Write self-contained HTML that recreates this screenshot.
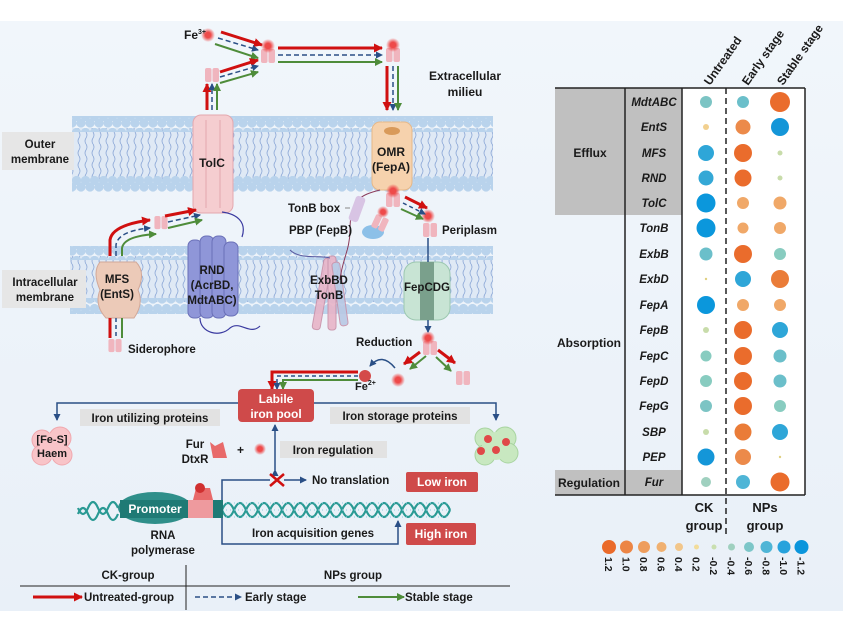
<!DOCTYPE html>
<html><head><meta charset="utf-8"><style>
html,body{margin:0;padding:0;background:#fff;}
svg{display:block;font-family:"Liberation Sans",Arial,sans-serif;}
.b{font-weight:bold;fill:#1a1a1a;}
</style></head><body>
<svg width="857" height="622" viewBox="0 0 857 622" xmlns="http://www.w3.org/2000/svg">
<defs>
<linearGradient id="bg" x1="0" y1="0" x2="0" y2="1"><stop offset="0" stop-color="#f1f6fb"/><stop offset="1" stop-color="#e9f0f8"/></linearGradient>
<pattern id="heads" width="9" height="16" patternUnits="userSpaceOnUse">
<circle cx="4.5" cy="4.5" r="4.6" fill="#b9d3ec"/><circle cx="0" cy="11" r="4.6" fill="#b9d3ec"/><circle cx="9" cy="11" r="4.6" fill="#b9d3ec"/></pattern>
<pattern id="tails" width="7" height="12" patternUnits="userSpaceOnUse">
<path d="M2 0 q2 3 0 6 q-2 3 0 6" stroke="#8aa6d6" stroke-width="0.8" fill="none"/></pattern>
<marker id="ar" markerUnits="userSpaceOnUse" markerWidth="9" markerHeight="9" refX="8" refY="4.5" orient="auto"><path d="M0 0L9 4.5L0 9z" fill="#d01010"/></marker>
<marker id="ab" markerUnits="userSpaceOnUse" markerWidth="7" markerHeight="7" refX="6" refY="3.5" orient="auto"><path d="M0 0L7 3.5L0 7z" fill="#2a4f86"/></marker>
<marker id="ag" markerUnits="userSpaceOnUse" markerWidth="8" markerHeight="8" refX="7" refY="4" orient="auto"><path d="M0 0L8 4L0 8z" fill="#4e8c3a"/></marker>
<symbol id="tp" viewBox="0 0 16 16"><rect x="1" y="1" width="6.5" height="14" rx="2" fill="#f0b5be"/><rect x="8.5" y="1" width="6.5" height="14" rx="2" fill="#f0b5be"/></symbol>
<radialGradient id="fe"><stop offset="0.4" stop-color="#ee4a4a"/><stop offset="1" stop-color="#ee4a4a" stop-opacity="0"/></radialGradient>
</defs>
<rect x="0" y="21" width="843" height="590" fill="url(#bg)"/>

<g>
<rect x="72" y="128" width="421" height="52" fill="#dfe9f5"/>
<rect x="72" y="128" width="421" height="52" fill="url(#tails)"/>
<rect x="72" y="116" width="421" height="16" fill="url(#heads)"/>
<rect x="72" y="176" width="421" height="16" fill="url(#heads)"/>
<rect x="70" y="256" width="423" height="46" fill="#dfe9f5"/>
<rect x="70" y="256" width="423" height="46" fill="url(#tails)"/>
<rect x="70" y="246" width="423" height="14" fill="url(#heads)"/>
<rect x="70" y="298" width="423" height="16" fill="url(#heads)"/>
</g>
<rect x="2" y="132" width="72" height="38" fill="#e6e6e6"/>
<text class="b" font-size="11.5" text-anchor="middle" x="40" y="148">Outer</text>
<text class="b" font-size="11.5" text-anchor="middle" x="40" y="163">membrane</text>
<rect x="2" y="270" width="84" height="38" fill="#e6e6e6"/>
<text class="b" font-size="11.5" text-anchor="middle" x="45" y="286">Intracellular</text>
<text class="b" font-size="11.5" text-anchor="middle" x="45" y="301">membrane</text>

<rect x="193" y="115" width="40" height="98" rx="8" fill="#f5cdd0" stroke="#e4a8ae"/>
<line x1="206" y1="120" x2="206" y2="208" stroke="#e4a8ae"/><line x1="220" y1="120" x2="220" y2="208" stroke="#e4a8ae"/>
<text class="b" font-size="12" text-anchor="middle" x="212" y="167">TolC</text>
<rect x="372" y="122" width="40" height="68" rx="8" fill="#f6d2ad" stroke="#e6b888"/>
<ellipse cx="392" cy="131" rx="8" ry="4" fill="#d99a5a"/>
<text class="b" font-size="12" text-anchor="middle" x="391" y="156">OMR</text>
<text class="b" font-size="12" text-anchor="middle" x="391" y="171">(FepA)</text>
<g fill="#8f96d8" stroke="#6a70b8">
<rect x="188" y="240" width="14" height="78" rx="6"/><rect x="200" y="236" width="14" height="82" rx="6"/><rect x="212" y="236" width="14" height="82" rx="6"/><rect x="224" y="242" width="14" height="74" rx="6"/></g>
<path d="M222 212 c15 2 25 10 20 25 M200 318 c0 15 20 20 30 10 c10 -8 20 8 30 -2" stroke="#3a3aa0" fill="none" stroke-width="1.2"/>
<text class="b" font-size="11.5" text-anchor="middle" x="212" y="274">RND</text>
<text class="b" font-size="11.5" text-anchor="middle" x="212" y="289">(AcrBD,</text>
<text class="b" font-size="11.5" text-anchor="middle" x="212" y="304">MdtABC)</text>
<path d="M100 262 q-8 10 0 28 q-6 15 6 28 h28 q10 -14 4 -28 q8 -18 -2 -28z" fill="#eccab8" stroke="#d2a898"/>
<text class="b" font-size="11.5" text-anchor="middle" x="117" y="283">MFS</text>
<text class="b" font-size="11.5" text-anchor="middle" x="117" y="298">(EntS)</text>
<g fill="#e8b4c8" stroke="#c890a8" opacity="0.9">
<rect x="318" y="258" width="8" height="72" rx="3" transform="rotate(10 322 294)"/><rect x="328" y="256" width="8" height="74" rx="3"/><rect x="336" y="262" width="8" height="64" rx="3" fill="#b8c8e4" transform="rotate(-8 340 294)"/></g>
<path d="M380 190 c-20 5 -30 10 -30 40 c0 20 -8 30 -10 50" stroke="#8a3a5a" fill="none"/>
<path d="M290 250 c10 10 30 5 40 8" stroke="#5a5aa0" fill="none"/>
<text class="b" font-size="11.5" text-anchor="middle" x="329" y="284">ExbBD</text>
<text class="b" font-size="11.5" text-anchor="middle" x="329" y="299">TonB</text>
<rect x="352" y="196" width="10" height="26" rx="3" fill="#d8c4e4" transform="rotate(20 357 209)"/>
<line x1="345" y1="208" x2="350" y2="208" stroke="#888"/>
<ellipse cx="373" cy="232" rx="11" ry="7" fill="#8cc0e8"/>
<use href="#tp" x="372" y="212" width="16" height="22" transform="rotate(25 380 223)"/>
<circle cx="383" cy="212" r="6" fill="url(#fe)"/>
<rect x="404" y="262" width="46" height="58" rx="12" fill="#c8e4d4" stroke="#9cc8b0"/>
<rect x="420" y="262" width="14" height="58" fill="#7aa08c"/>
<text class="b" font-size="11.5" text-anchor="middle" x="427" y="291">FepCDG</text>

<use href="#tp" x="260" y="48" width="16" height="16"/>
<use href="#tp" x="204" y="67" width="16" height="16"/>
<use href="#tp" x="385" y="47" width="16" height="16"/>
<use href="#tp" x="385" y="192" width="16" height="16"/>
<use href="#tp" x="153" y="215" width="16" height="15"/>
<use href="#tp" x="107" y="338" width="16" height="15"/>
<use href="#tp" x="422" y="222" width="16" height="16"/>
<use href="#tp" x="422" y="340" width="16" height="16"/>
<use href="#tp" x="455" y="370" width="16" height="16"/>
<circle cx="208" cy="35" r="7" fill="url(#fe)"/>
<circle cx="268" cy="46" r="7" fill="url(#fe)"/>
<circle cx="393" cy="45" r="7" fill="url(#fe)"/>
<circle cx="393" cy="191" r="7" fill="url(#fe)"/>
<circle cx="428" cy="216" r="7" fill="url(#fe)"/>
<circle cx="428" cy="338" r="7" fill="url(#fe)"/>
<circle cx="398" cy="380" r="7" fill="url(#fe)"/>
<circle cx="365" cy="376" r="6" fill="#d44a4a"/>

<g fill="none" stroke-width="2.5">
<path d="M221 32 L262 45" stroke="#d01010" marker-end="url(#ar)" stroke-width="3"/>
<path d="M218 38 L258 50" stroke="#2a4f86" stroke-dasharray="5 3" stroke-width="1.5" marker-end="url(#ab)"/>
<path d="M215 44 L258 58" stroke="#4e8c3a" marker-end="url(#ag)" stroke-width="2"/>
<path d="M220 72 L258 60" stroke="#d01010" marker-end="url(#ar)" stroke-width="3"/>
<path d="M220 77 L258 66" stroke="#2a4f86" stroke-dasharray="5 3" stroke-width="1.5" marker-end="url(#ab)"/>
<path d="M220 83 L258 72" stroke="#4e8c3a" marker-end="url(#ag)" stroke-width="2"/>
<path d="M278 48 L382 48" stroke="#d01010" marker-end="url(#ar)" stroke-width="3"/>
<path d="M278 55 L382 55" stroke="#2a4f86" stroke-dasharray="5 3" stroke-width="1.5" marker-end="url(#ab)"/>
<path d="M278 62 L382 62" stroke="#4e8c3a" marker-end="url(#ag)" stroke-width="2"/>
<path d="M387 66 L387 110" stroke="#d01010" marker-end="url(#ar)" stroke-width="3"/>
<path d="M393 66 L393 110" stroke="#2a4f86" stroke-dasharray="5 3" stroke-width="1.5" marker-end="url(#ab)"/>
<path d="M398 66 L398 110" stroke="#4e8c3a" marker-end="url(#ag)" stroke-width="2"/>
<path d="M207 110 L207 84" stroke="#d01010" marker-end="url(#ar)" stroke-width="3"/>
<path d="M212 110 L212 84" stroke="#2a4f86" stroke-dasharray="5 3" stroke-width="1.5" marker-end="url(#ab)"/>
<path d="M217 110 L217 84" stroke="#4e8c3a" marker-end="url(#ag)" stroke-width="2"/>
<path d="M110 256 L110 240 Q112 225 150 220" stroke="#d01010" marker-end="url(#ar)" stroke-width="3"/>
<path d="M116 256 L116 245 Q118 231 150 228" stroke="#2a4f86" stroke-dasharray="5 3" stroke-width="1.5" marker-end="url(#ab)"/>
<path d="M122 256 L122 248 Q124 236 156 234" stroke="#4e8c3a" marker-end="url(#ag)" stroke-width="2"/>
<path d="M165 216 L196 210" stroke="#d01010" marker-end="url(#ar)" stroke-width="3"/>
<path d="M168 222 L200 215" stroke="#2a4f86" stroke-dasharray="5 3" stroke-width="1.5" marker-end="url(#ab)"/>
<path d="M168 228 L202 220" stroke="#4e8c3a" marker-end="url(#ag)" stroke-width="2"/>
<path d="M110 318 L110 338" stroke="#d01010" stroke-width="3"/>
<path d="M116 318 L116 338" stroke="#2a4f86" stroke-dasharray="4 3" stroke-width="1.5"/>
<path d="M122 318 L122 338" stroke="#4e8c3a" stroke-width="2"/>
<path d="M405 197 L427 208" stroke="#d01010" marker-end="url(#ar)" stroke-width="3"/>
<path d="M403 203 L425 214" stroke="#2a4f86" stroke-dasharray="4 3" stroke-width="1.5" marker-end="url(#ab)"/>
<path d="M401 209 L423 219" stroke="#4e8c3a" marker-end="url(#ag)" stroke-width="2"/>
<path d="M428 238 L428 262 M428 320 L428 332" stroke="#2a4f86" stroke-width="1.5" marker-end="url(#ab)"/>
<path d="M420 352 L404 364" stroke="#d01010" marker-end="url(#ar)" stroke-width="3"/>
<path d="M426 356 L410 369" stroke="#4e8c3a" marker-end="url(#ag)" stroke-width="2"/>
<path d="M438 350 L455 363" stroke="#d01010" marker-end="url(#ar)" stroke-width="3"/>
<path d="M436 357 L451 371" stroke="#4e8c3a" marker-end="url(#ag)" stroke-width="2"/>
<path d="M395 368 Q382 352 370 366" stroke="#2a4f86" stroke-width="1.5" marker-end="url(#ab)"/>
<path d="M358 372 L272 372 L272 389" stroke="#d01010" marker-end="url(#ar)" stroke-width="3"/>
<path d="M358 376 L277 376 L277 389" stroke="#2a4f86" stroke-dasharray="4 3" stroke-width="1.5" marker-end="url(#ab)"/>
<path d="M358 380 L283 380 L283 389" stroke="#4e8c3a" marker-end="url(#ag)" stroke-width="2"/>
</g>

<text class="b" font-size="12" x="184" y="39">Fe<tspan font-size="7" dy="-5">3+</tspan></text>
<text class="b" font-size="12" text-anchor="middle" x="465" y="80">Extracellular</text>
<text class="b" font-size="12" text-anchor="middle" x="465" y="96">milieu</text>
<text class="b" font-size="11.5" x="288" y="212">TonB box</text>
<text class="b" font-size="11.5" x="289" y="234">PBP (FepB)</text>
<text class="b" font-size="11.5" x="442" y="234">Periplasm</text>
<text class="b" font-size="11.5" x="128" y="353">Siderophore</text>
<text class="b" font-size="11.5" x="356" y="346">Reduction</text>
<text class="b" font-size="11" x="355" y="390">Fe<tspan font-size="7" dy="-5">2+</tspan></text>

<rect x="238" y="389" width="76" height="33" rx="4" fill="#cf4a4a"/>
<text font-size="12" font-weight="bold" fill="#fff" text-anchor="middle" x="276" y="403">Labile</text>
<text font-size="12" font-weight="bold" fill="#fff" text-anchor="middle" x="276" y="418">iron pool</text>
<path d="M238 403 L57 403 L57 420" stroke="#2a4f86" stroke-width="1.5" fill="none" marker-end="url(#ab)"/>
<path d="M314 403 L496 403 L496 420" stroke="#2a4f86" stroke-width="1.5" fill="none" marker-end="url(#ab)"/>
<rect x="80" y="409" width="140" height="17" fill="#e2e2e2"/>
<text class="b" font-size="11.5" text-anchor="middle" x="150" y="422">Iron utilizing proteins</text>
<rect x="330" y="407" width="140" height="17" fill="#e2e2e2"/>
<text class="b" font-size="11.5" text-anchor="middle" x="400" y="420">Iron storage proteins</text>
<g fill="#f8c4c8" stroke="#f0a8ae"><circle cx="42" cy="440" r="10"/><circle cx="60" cy="438" r="11"/><circle cx="42" cy="455" r="10"/><circle cx="62" cy="455" r="10"/><circle cx="52" cy="446" r="13" stroke="none"/></g>
<text class="b" font-size="11" text-anchor="middle" x="52" y="443">[Fe-S]</text>
<text class="b" font-size="11" text-anchor="middle" x="52" y="457">Haem</text>
<g fill="#c8e8c0" stroke="#a8d4a0"><circle cx="485" cy="438" r="10"/><circle cx="505" cy="438" r="11"/><circle cx="485" cy="455" r="10"/><circle cx="508" cy="453" r="10"/><circle cx="496" cy="446" r="14" stroke="none"/></g>
<g fill="#e04848"><circle cx="488" cy="439" r="4"/><circle cx="506" cy="442" r="4"/><circle cx="481" cy="451" r="4"/><circle cx="496" cy="450" r="4"/></g>
<text class="b" font-size="11.5" text-anchor="middle" x="195" y="448">Fur</text>
<text class="b" font-size="11.5" text-anchor="middle" x="195" y="463">DtxR</text>
<path d="M210 442 l5 4 l8 -4 l4 16 h-14z" fill="#e86a6a"/>
<text class="b" font-size="12" x="237" y="454">+</text>
<circle cx="260" cy="449" r="6" fill="url(#fe)"/>
<path d="M275 470 L275 425" stroke="#2a4f86" stroke-width="1.5" marker-end="url(#ab)" marker-start="url(#ab)"/>
<rect x="280" y="441" width="107" height="17" fill="#e2e2e2"/>
<text class="b" font-size="11.5" text-anchor="middle" x="333" y="454">Iron regulation</text>
<path d="M270 474 l14 12 M284 474 l-14 12" stroke="#d01010" stroke-width="2.5"/>
<path d="M284 480 L306 480" stroke="#2a4f86" stroke-width="1.5" marker-end="url(#ab)"/>
<path d="M270 480 L222 480 L222 544 L398 544 L398 521" stroke="#2a4f86" stroke-width="1.5" fill="none" marker-end="url(#ab)"/>
<text class="b" font-size="11.5" x="312" y="484">No translation</text>
<rect x="406" y="472" width="72" height="20" rx="2" fill="#cf4a4a"/>
<text font-size="12" font-weight="bold" fill="#fff" text-anchor="middle" x="442" y="486">Low iron</text>
<rect x="406" y="523" width="70" height="22" rx="2" fill="#cf4a4a"/>
<text font-size="12" font-weight="bold" fill="#fff" text-anchor="middle" x="441" y="538">High iron</text>
<g fill="none" stroke="#2a9a94" stroke-width="2.2">
<path d="M78 514 q5 -12 10 0 t10 0 t10 0 t10 0 M222 510 q6 -14 12 0 t12 0 t12 0 t12 0 t12 0 t12 0 t12 0 t12 0 t12 0 t12 0 t12 0 t12 0 t12 0 t12 0 t12 0 t12 0 t12 0 t12 0 t12 0"/>
<path d="M78 508 q5 12 10 0 t10 0 t10 0 t10 0 M222 510 q6 14 12 0 t12 0 t12 0 t12 0 t12 0 t12 0 t12 0 t12 0 t12 0 t12 0 t12 0 t12 0 t12 0 t12 0 t12 0 t12 0 t12 0 t12 0 t12 0"/>
</g>
<path d="M222 503 H450 M222 510 H450 M222 517 H450" stroke="#8ccde0" stroke-width="1" stroke-dasharray="1 3"/>
<ellipse cx="155" cy="508" rx="37" ry="16" fill="#2f8f8a"/>
<rect x="120" y="500" width="70" height="18" fill="#1f7a75"/>
<text font-size="12" font-weight="bold" fill="#fff" text-anchor="middle" x="155" y="513">Promoter</text>
<rect x="188" y="500" width="25" height="18" fill="#ee9a9e"/>
<rect x="213" y="500" width="10" height="18" fill="#1f7a75"/>
<path d="M193 500 l3 -12 h14 l3 12z" fill="#e86a6a"/>
<circle cx="200" cy="488" r="5" fill="#d03030"/>
<text class="b" font-size="11.5" text-anchor="middle" x="163" y="539">RNA</text>
<text class="b" font-size="11.5" text-anchor="middle" x="163" y="554">polymerase</text>
<text class="b" font-size="11.5" text-anchor="middle" x="313" y="537">Iron acquisition genes</text>
<line x1="20" y1="586" x2="510" y2="586" stroke="#222"/>
<line x1="186" y1="565" x2="186" y2="610" stroke="#222"/>
<text class="b" font-size="11.5" text-anchor="middle" x="128" y="579">CK-group</text>
<text class="b" font-size="11.5" text-anchor="middle" x="353" y="579">NPs group</text>
<path d="M33 597 L82 597" stroke="#d01010" stroke-width="3" marker-end="url(#ar)"/>
<text class="b" font-size="11.5" x="84" y="601">Untreated-group</text>
<path d="M195 597 L241 597" stroke="#2a4f86" stroke-width="1.5" stroke-dasharray="5 3" marker-end="url(#ab)"/>
<text class="b" font-size="11.5" x="245" y="601">Early stage</text>
<path d="M358 597 L404 597" stroke="#4e8c3a" stroke-width="2" marker-end="url(#ag)"/>
<text class="b" font-size="11.5" x="405" y="601">Stable stage</text>

<rect x="555" y="88" width="127" height="127" fill="#c0c0c0"/>
<rect x="555" y="470" width="127" height="25" fill="#c0c0c0"/>
<rect x="682" y="88" width="123" height="407" fill="#fff"/>
<line x1="555" y1="88" x2="805" y2="88" stroke="#222" stroke-width="1.5"/>
<line x1="555" y1="495" x2="805" y2="495" stroke="#222" stroke-width="1.5"/>
<line x1="625" y1="88" x2="625" y2="495" stroke="#222" stroke-width="1.5"/>
<line x1="682" y1="88" x2="682" y2="495" stroke="#222" stroke-width="1.5"/>
<line x1="805" y1="88" x2="805" y2="495" stroke="#222" stroke-width="1.5"/>
<line x1="726" y1="88" x2="726" y2="536" stroke="#222" stroke-width="1.5" stroke-dasharray="6 4"/>
<text class="b" font-size="12" text-anchor="middle" x="590" y="157">Efflux</text>
<text class="b" font-size="12" text-anchor="middle" x="589" y="347">Absorption</text>
<text class="b" font-size="12" text-anchor="middle" x="589" y="487">Regulation</text>
<g font-size="11.5" font-weight="bold" font-style="italic" text-anchor="middle" fill="#1a1a1a">
<text x="654" y="106">MdtABC</text><text x="654" y="131">EntS</text><text x="654" y="157">MFS</text><text x="654" y="182">RND</text><text x="654" y="207">TolC</text><text x="654" y="232">TonB</text><text x="654" y="258">ExbB</text><text x="654" y="283">ExbD</text><text x="654" y="309">FepA</text><text x="654" y="334">FepB</text><text x="654" y="360">FepC</text><text x="654" y="385">FepD</text><text x="654" y="410">FepG</text><text x="654" y="436">SBP</text><text x="654" y="461">PEP</text><text x="654" y="486">Fur</text>
</g>
<g>
<circle cx="706" cy="102" r="6" fill="#7cc4c4"/><circle cx="743" cy="102" r="6" fill="#6bbfca"/><circle cx="780" cy="102" r="10" fill="#ea6c2c"/>
<circle cx="706" cy="127" r="3" fill="#f2d08f"/><circle cx="743" cy="127" r="7.5" fill="#ec8a4a"/><circle cx="780" cy="127" r="9" fill="#1496d8"/>
<circle cx="706" cy="153" r="8" fill="#2ea6d8"/><circle cx="743" cy="153" r="9" fill="#ea6c2c"/><circle cx="780" cy="153" r="2.5" fill="#c8dcaa"/>
<circle cx="706" cy="178" r="7.5" fill="#34a8d6"/><circle cx="743" cy="178" r="8.5" fill="#ea6c2c"/><circle cx="780" cy="178" r="2.5" fill="#c8dcaa"/>
<circle cx="706" cy="203" r="9.5" fill="#0b97dc"/><circle cx="743" cy="203" r="6" fill="#f0a868"/><circle cx="780" cy="203" r="6.5" fill="#f0a868"/>
<circle cx="706" cy="228" r="9.5" fill="#0b97dc"/><circle cx="743" cy="228" r="5.5" fill="#f0a868"/><circle cx="780" cy="228" r="6" fill="#f0a868"/>
<circle cx="706" cy="254" r="6.5" fill="#6bbfca"/><circle cx="743" cy="254" r="9" fill="#ea6c2c"/><circle cx="780" cy="254" r="6" fill="#88ccc0"/>
<circle cx="706" cy="279" r="1.2" fill="#e0d080"/><circle cx="743" cy="279" r="8" fill="#2ea6d8"/><circle cx="780" cy="279" r="9" fill="#ea7c38"/>
<circle cx="706" cy="305" r="9" fill="#0b97dc"/><circle cx="743" cy="305" r="6" fill="#f0a868"/><circle cx="780" cy="305" r="6" fill="#f0a868"/>
<circle cx="706" cy="330" r="3" fill="#c8dcaa"/><circle cx="743" cy="330" r="9" fill="#ea6c2c"/><circle cx="780" cy="330" r="8" fill="#2ea6d8"/>
<circle cx="706" cy="356" r="5.5" fill="#88ccc0"/><circle cx="743" cy="356" r="9" fill="#ea6c2c"/><circle cx="780" cy="356" r="6.5" fill="#6bbfca"/>
<circle cx="706" cy="381" r="6" fill="#88ccc0"/><circle cx="743" cy="381" r="9" fill="#ea6c2c"/><circle cx="780" cy="381" r="6.5" fill="#6bbfca"/>
<circle cx="706" cy="406" r="6" fill="#7cc4c4"/><circle cx="743" cy="406" r="9" fill="#ea6c2c"/><circle cx="780" cy="406" r="6" fill="#88ccc0"/>
<circle cx="706" cy="432" r="3" fill="#c8dcaa"/><circle cx="743" cy="432" r="8.5" fill="#ea7c38"/><circle cx="780" cy="432" r="8" fill="#2ea6d8"/>
<circle cx="706" cy="457" r="8.5" fill="#1496d8"/><circle cx="743" cy="457" r="8" fill="#ec8a4a"/><circle cx="780" cy="457" r="1.2" fill="#e0d080"/>
<circle cx="706" cy="482" r="5" fill="#9fd0bf"/><circle cx="743" cy="482" r="7" fill="#4fb5d6"/><circle cx="780" cy="482" r="9.5" fill="#ea6c2c"/>
</g>
<g font-size="12" font-weight="bold" fill="#1a1a1a">
<text transform="translate(710 86) rotate(-55)">Untreated</text>
<text transform="translate(748 86) rotate(-55)">Early stage</text>
<text transform="translate(783 86) rotate(-55)">Stable stage</text>
</g>
<text class="b" font-size="13" text-anchor="middle" x="704" y="512">CK</text>
<text class="b" font-size="13" text-anchor="middle" x="704" y="530">group</text>
<text class="b" font-size="13" text-anchor="middle" x="765" y="512">NPs</text>
<text class="b" font-size="13" text-anchor="middle" x="765" y="530">group</text>
<g>
<circle cx="609" cy="547" r="7" fill="#ea6a2a"/><circle cx="626.5" cy="547" r="6.5" fill="#ec8545"/><circle cx="644" cy="547" r="6" fill="#ee9d5c"/><circle cx="661.5" cy="547" r="5" fill="#f0b070"/><circle cx="679" cy="547" r="4" fill="#f2c68a"/><circle cx="696.5" cy="547" r="2.5" fill="#f2dc9a"/><circle cx="714" cy="547" r="2.5" fill="#c9dfb0"/><circle cx="731.5" cy="547" r="3.5" fill="#9fd0bf"/><circle cx="749" cy="547" r="5" fill="#7cc6c8"/><circle cx="766.5" cy="547" r="6" fill="#4fb5d6"/><circle cx="784" cy="547" r="6.5" fill="#27a2dc"/><circle cx="801.5" cy="547" r="7" fill="#0a95dc"/>
</g>
<g font-size="10.5" font-weight="bold" fill="#1a1a1a">
<text transform="translate(605 557) rotate(90)">1.2</text><text transform="translate(622.5 557) rotate(90)">1.0</text><text transform="translate(640 557) rotate(90)">0.8</text><text transform="translate(657.5 557) rotate(90)">0.6</text><text transform="translate(675 557) rotate(90)">0.4</text><text transform="translate(692.5 557) rotate(90)">0.2</text><text transform="translate(710 557) rotate(90)">-0.2</text><text transform="translate(727.5 557) rotate(90)">-0.4</text><text transform="translate(745 557) rotate(90)">-0.6</text><text transform="translate(762.5 557) rotate(90)">-0.8</text><text transform="translate(780 557) rotate(90)">-1.0</text><text transform="translate(797.5 557) rotate(90)">-1.2</text>
</g>
</svg>
</body></html>
